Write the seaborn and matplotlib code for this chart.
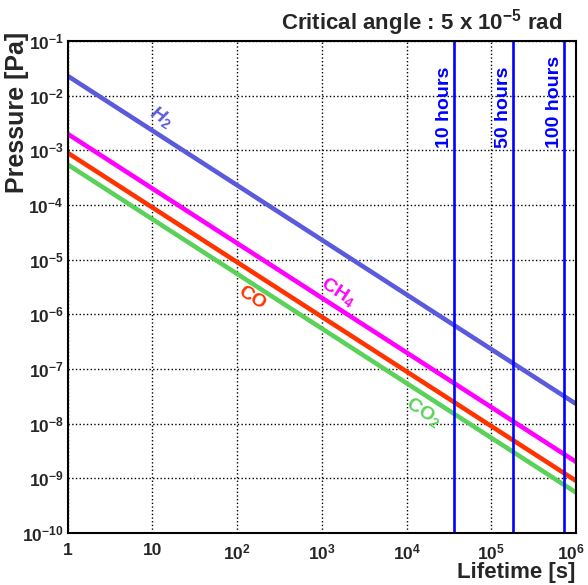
import numpy as np
import pandas as pd
import seaborn as sns
import matplotlib
matplotlib.use("Agg")
import matplotlib.pyplot as plt
import matplotlib.transforms as mtransforms
from matplotlib.ticker import LogLocator, NullFormatter

# values
lifetime = [1, 1e6]
p_h2 = [2.3e-2, 2.3e-8]
p_ch4 = [2.0e-3, 2.0e-9]
p_co = [9.0e-4, 9.0e-10]
p_co2 = [5.5e-4, 5.5e-10]

gases = ["H2", "CH4", "CO", "CO2"]
gas_labels = [r"$\mathit{H}_{2}$", r"CH$_{4}$", "CO", r"CO$_{2}$"]
label_x = [12.6, 1550, 151, 1.57e4]
label_y = [4.1e-3, 2.6e-6, 2.0e-6, 1.66e-8]

hours_lines = [3.6e4, 1.8e5, 7.2e5]
hours_labels = ["10 hours", "50 hours", "100 hours"]

x_ticks = [1, 10, 1e2, 1e3, 1e4, 1e5, 1e6]
x_ticklabels = ["1", "10", r"$10^{2}$", r"$10^{3}$", r"$10^{4}$", r"$10^{5}$", r"$10^{6}$"]
y_exps = [-10, -9, -8, -7, -6, -5, -4, -3, -2, -1]

colors = {"H2": "#5a5adc", "CH4": "#ff00ff", "CO": "#ff3300", "CO2": "#5ad25a"}

df = pd.DataFrame({
    "Lifetime": lifetime * 4,
    "Pressure": p_h2 + p_ch4 + p_co + p_co2,
    "gas": [g for g in gases for _ in lifetime],
})

sns.set_style("white")
plt.rcParams["font.family"] = ["Liberation Sans", "DejaVu Sans"]
plt.rcParams["font.weight"] = "bold"
plt.rcParams["mathtext.fontset"] = "custom"
plt.rcParams["mathtext.rm"] = "Liberation Sans:bold"
plt.rcParams["mathtext.bf"] = "Liberation Sans:bold"
plt.rcParams["mathtext.it"] = "Liberation Sans:bold:italic"

fig = plt.figure(figsize=(5.88, 5.85), dpi=100)
ax = fig.add_axes([0.1151, 0.0889, 0.8645, 0.8410])

sns.lineplot(data=df, x="Lifetime", y="Pressure", hue="gas", palette=colors,
             linewidth=3.3, legend=False, ax=ax)

ax.set_xscale("log")
ax.set_yscale("log")
ax.set_xlim(1, 1e6)
ax.set_ylim(1e-10, 1e-1)

# vertical lines for the lifetimes in hours
trans = mtransforms.blended_transform_factory(ax.transData, ax.transAxes)
for xv, lab in zip(hours_lines, hours_labels):
    ax.axvline(xv, color="#0000ff", linewidth=1.9)
    ax.text(xv * 0.97, 0.7825, lab, transform=trans, rotation=90, ha="right",
            va="bottom", color="#0000ff", fontsize=14, fontweight="bold")

# labels along the lines
for g, lab, lx, ly in zip(gases, gas_labels, label_x, label_y):
    ax.text(lx, ly, lab, color=colors[g], fontsize=14, fontweight="bold",
            rotation=-33, rotation_mode="anchor", ha="center", va="center")

ax.set_xticks(x_ticks, labels=x_ticklabels)
ax.set_yticks([10.0 ** e for e in y_exps],
              labels=[r"$10^{%d}$" % e for e in y_exps])
ax.xaxis.set_minor_locator(LogLocator(base=10, subs=np.arange(2, 10), numticks=100))
ax.yaxis.set_minor_locator(LogLocator(base=10, subs=np.arange(2, 10), numticks=100))
ax.xaxis.set_minor_formatter(NullFormatter())
ax.yaxis.set_minor_formatter(NullFormatter())

ax.tick_params(which="major", direction="in", length=10, width=1.2, labelsize=12.5)
ax.tick_params(which="minor", direction="in", length=5, width=1.0)
ax.tick_params(axis="x", which="major", pad=7)
ax.tick_params(axis="y", which="major", pad=3)

# keep the last x label inside the canvas
last = ax.get_xticklabels()[-1]
last.set_transform(last.get_transform() +
                   mtransforms.ScaledTranslation(-5 / 100, 0, fig.dpi_scale_trans))

ax.grid(True, which="major", linestyle=":", color="black", linewidth=1.0)
for s in ax.spines.values():
    s.set_linewidth(1.5)
    s.set_color("black")

ax.set_xlabel("")
ax.set_ylabel("")
fig.text(575 / 588, 1 - 578 / 585, "Lifetime [s]", ha="right", va="baseline",
         fontsize=16, fontweight="bold")
fig.text(17 / 588, 1 - 32 / 585, "Pressure [Pa]", rotation=90, ha="center",
         va="top", fontsize=18, fontweight="bold")
fig.text(562 / 588, 1 - 30 / 585, r"Critical angle : 5 x 10$^{-5}$ rad",
         ha="right", va="baseline", fontsize=16, fontweight="bold")

fig.savefig("out.png", dpi=100)
